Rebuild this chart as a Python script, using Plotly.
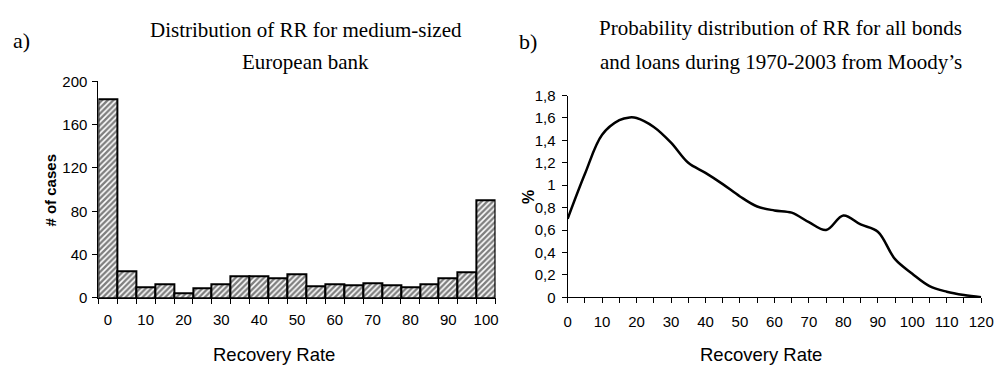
import plotly.graph_objects as go

# ---- data: panel a (histogram of recovery rates) ----
rr_bins = [0, 5, 10, 15, 20, 25, 30, 35, 40, 45, 50, 55, 60, 65, 70, 75, 80, 85, 90, 95, 100]
cases = [183, 25, 10, 13, 4, 9, 13, 20, 20, 18, 22, 11, 13, 12, 14, 12, 10, 13, 18, 24, 90]
a_xticks = [0, 10, 20, 30, 40, 50, 60, 70, 80, 90, 100]
a_yticks = [0, 40, 80, 120, 160, 200]

# ---- data: panel b (Moody's probability distribution) ----
rr_x = [0, 5, 10, 15, 18, 20, 25, 30, 35, 40, 45, 50, 55, 60, 65, 70, 75, 80, 85, 90, 95, 100, 105, 110, 115, 120]
prob = [0.70, 1.10, 1.45, 1.58, 1.605, 1.60, 1.52, 1.38, 1.20, 1.11, 1.01, 0.90, 0.81, 0.775, 0.755, 0.67, 0.60, 0.73, 0.65, 0.585, 0.34, 0.21, 0.10, 0.05, 0.02, 0.0]
b_xticks = [0, 10, 20, 30, 40, 50, 60, 70, 80, 90, 100, 110, 120]
b_yticks = [0, 0.2, 0.4, 0.6, 0.8, 1.0, 1.2, 1.4, 1.6, 1.8]

W, H = 1007, 374
def px(x):
    return x / W
def py(y):
    return 1 - y / H

sans = "Liberation Sans, Arial, sans-serif"
serif = "Liberation Serif, Times New Roman, serif"

fig = go.Figure()
fig.add_trace(go.Bar(
    x=rr_bins, y=cases, width=5,
    marker=dict(color="white", line=dict(color="black", width=2),
                pattern=dict(shape="/", fgcolor="black", bgcolor="white", size=4, solidity=0.6)),
    xaxis="x", yaxis="y", showlegend=False,
))
fig.add_trace(go.Scatter(
    x=rr_x, y=prob, mode="lines", line=dict(color="black", width=2.5, shape="spline", smoothing=1.0),
    xaxis="x2", yaxis="y2", showlegend=False,
))

minor_a = [b - 2.5 for b in rr_bins] + [rr_bins[-1] + 2.5]

axis_common = dict(showline=True, linecolor="black", linewidth=1, showgrid=False, zeroline=False,
                   ticks="outside", ticklen=5, tickcolor="black", tickfont=dict(family=sans, size=15, color="black"))

fig.update_layout(
    width=W, height=H, margin=dict(l=0, r=0, t=0, b=0),
    paper_bgcolor="white", plot_bgcolor="white",
    separators=",.", bargap=0,
    xaxis=dict(axis_common, domain=[px(96), px(500)], range=[-2.5, 102.5], tickvals=a_xticks, ticks="",
               ticklabelstandoff=8,
               minor=dict(tickvals=minor_a, ticks="outside", ticklen=5, tickcolor="black"), anchor="y"),
    yaxis=dict(axis_common, domain=[py(302.7), py(75.7)], range=[0, 200], tickvals=a_yticks, anchor="x",
               ticklabelstandoff=2),
    xaxis2=dict(axis_common, domain=[px(573.3), px(994)], range=[0, 120], tickvals=b_xticks,
                ticklabelstandoff=6,
                minor=dict(dtick=5, ticks="outside", ticklen=5, tickcolor="black"), anchor="y2"),
    yaxis2=dict(axis_common, domain=[py(302), py(90.7)], range=[0, 1.8], tickvals=b_yticks, anchor="x2",
                ticklabelstandoff=3),
)

ann = []
def text(x, y, s, size, family, bold=False, angle=0):
    ann.append(dict(x=px(x), y=py(y), xref="paper", yref="paper", text=f"<b>{s}</b>" if bold else s,
                    showarrow=False, xanchor="center", yanchor="middle", textangle=angle,
                    font=dict(family=family, size=size, color="black")))

text(18, 33, "a)", 22, serif)
text(307, 22, "Distribution of RR for medium-sized", 21, serif)
text(307, 55, "European bank", 21, serif)
text(533, 34, "b)", 22, serif)
text(790, 20, "Probability distribution of RR for all bonds", 21, serif)
text(790, 56, "and loans during 1970-2003 from Moody’s", 21, serif)
text(47, 190, "# of cases", 15, sans, bold=True, angle=-90)
text(275, 362, "Recovery Rate", 18.5, sans)
text(533, 197, "%", 16, sans, bold=True, angle=-90)
text(770, 362, "Recovery Rate", 18.5, sans)
fig.update_layout(annotations=ann)

fig.write_html("out.html")
